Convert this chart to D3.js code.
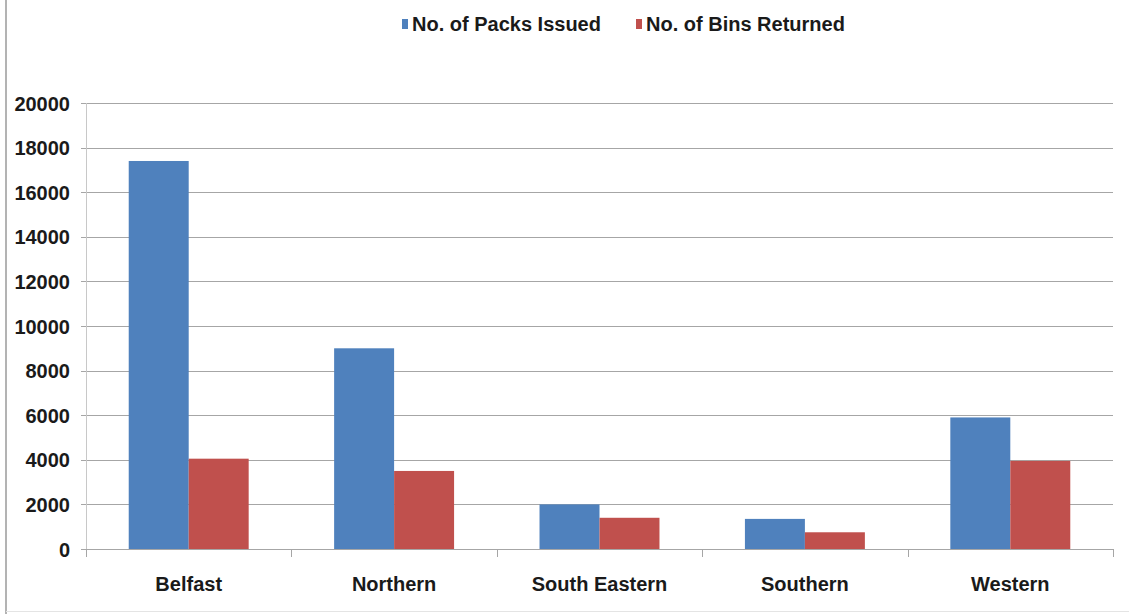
<!DOCTYPE html>
<html><head><meta charset="utf-8">
<script src="https://cdn.jsdelivr.net/npm/d3@7"></script>
<style>
html,body{margin:0;padding:0;background:#fff;}
text{font-family:"Liberation Sans",Arial,sans-serif;font-weight:bold;fill:#1a1a1a;}
</style></head>
<body>
<svg id="c" width="1129" height="614"></svg>
<script>
const categories = ["Belfast","Northern","South Eastern","Southern","Western"];
const seriesNames = ["No. of Packs Issued","No. of Bins Returned"];
const packsIssued = [17400, 9000, 2000, 1350, 5900];
const binsReturned = [4050, 3500, 1400, 750, 3950];
const yTicks = [0,2000,4000,6000,8000,10000,12000,14000,16000,18000,20000];
const colors = ["#4F81BD","#C0504D"];

const svg = d3.select("#c");
const W = 1129, H = 614;
const L = 86, R = 1113, T = 103, B = 549;

// frame
svg.append("line").attr("x1",6).attr("x2",6).attr("y1",0).attr("y2",H).attr("stroke","#9a9a9a").attr("stroke-width",1.5);
svg.append("line").attr("x1",6).attr("x2",W).attr("y1",611.5).attr("y2",611.5).attr("stroke","#e4e4e4").attr("stroke-width",1);

const x = d3.scaleBand().domain(categories).range([L,R]).paddingInner(0.416).paddingOuter(0.208);
const x1 = d3.scaleBand().domain(seriesNames).range([0,x.bandwidth()]);
const y = d3.scaleLinear().domain([0,20000]).range([B,T]);

// gridlines
svg.append("g").selectAll("line").data(yTicks).join("line")
  .attr("x1",L-5).attr("x2",R).attr("y1",d=>Math.round(y(d))+0.5).attr("y2",d=>Math.round(y(d))+0.5)
  .attr("stroke","#a6a6a6").attr("stroke-width",1);

// y axis line
svg.append("line").attr("x1",L+0.5).attr("x2",L+0.5).attr("y1",T).attr("y2",B).attr("stroke","#c8c8c8");

// y labels
const yAxis = d3.axisLeft(y).tickValues(yTicks).tickSize(0).tickPadding(16).tickFormat(d3.format("d"));
const gy = svg.append("g").attr("transform",`translate(${L},0)`).call(yAxis);
gy.select(".domain").remove();
gy.selectAll("text").style("font-size","20px").attr("dy","0.35em").style("fill","#1a1a1a");

// bars
const data = categories.map((c,i)=>({c, vals:[packsIssued[i], binsReturned[i]]}));
const g = svg.append("g");
data.forEach(d=>{
  d.vals.forEach((v,j)=>{
    g.append("rect")
      .attr("x", x(d.c)+x1(seriesNames[j]))
      .attr("y", y(v))
      .attr("width", x1.bandwidth())
      .attr("height", B - y(v))
      .attr("fill", colors[j]);
  });
});

// x axis
svg.append("line").attr("x1",L).attr("x2",R).attr("y1",B+0.5).attr("y2",B+0.5).attr("stroke","#a6a6a6");
const step = x.step();
const bounds = d3.range(categories.length+1).map(i=>L+i*step);
svg.append("g").selectAll("line").data(bounds).join("line")
  .attr("x1",d=>Math.round(d)+0.5).attr("x2",d=>Math.round(d)+0.5).attr("y1",B).attr("y2",B+8)
  .attr("stroke","#a6a6a6");
const xAxis = d3.axisBottom(x).tickSize(0).tickPadding(0);
const gx = svg.append("g").attr("transform",`translate(0,${B})`).call(xAxis);
gx.select(".domain").remove();
gx.selectAll("text").attr("y",35).attr("dy","0.35em").style("font-size","20px").style("fill","#1a1a1a");

// legend
const leg = svg.append("g");
const legItems = [{n:seriesNames[0],c:colors[0],x:402},{n:seriesNames[1],c:colors[1],x:636}];
legItems.forEach(it=>{
  leg.append("rect").attr("x",it.x).attr("y",19).attr("width",6).attr("height",10).attr("fill",it.c);
  leg.append("text").attr("x",it.x+10).attr("y",24).attr("dy","0.35em").style("font-size","20px").text(it.n);
});
</script>
</body></html>
